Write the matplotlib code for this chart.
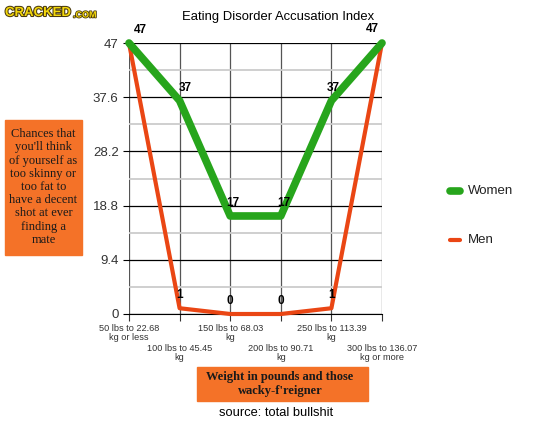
import matplotlib.pyplot as plt
import matplotlib.patheffects as pe
from matplotlib.patches import Rectangle

# data
weights = ["50 lbs to 22.68\nkg or less", "100 lbs to 45.45\nkg", "150 lbs to 68.03\nkg",
           "200 lbs to 90.71\nkg", "250 lbs to 113.39\nkg", "300 lbs to 136.07\nkg or more"]
women = [47, 37, 17, 17, 37, 47]
men = [47, 1, 0, 0, 1, 47]
y_ticks = [0, 9.4, 18.8, 28.2, 37.6, 47]

green = "#27a51c"
red = "#ea4614"
orange = "#f47228"

plt.rcParams["font.family"] = ["Liberation Sans", "DejaVu Sans"]

fig = plt.figure(figsize=(5.5, 4.24), dpi=100)
ax = fig.add_axes([129/550, 1 - 314/424, 253/550, 271/424])

x = list(range(len(weights)))
ax.plot(x, men, color=red, lw=3, solid_joinstyle="round", solid_capstyle="round", clip_on=False, zorder=3)
ax.plot(x, women, color=green, lw=5.5, solid_joinstyle="round", solid_capstyle="round", clip_on=False, zorder=4)

# data labels
w_off = [(8, 5), (4, 5), (2, 5), (2, 5), (1, 5), (-7, 6)]
for i, v in enumerate(women):
    ax.annotate(str(v), (i, v), xytext=w_off[i], textcoords="offset points",
                ha="center", va="bottom", fontsize=8.5, fontweight="bold", zorder=5, annotation_clip=False)
for i, v in enumerate(men):
    if 0 < i < len(men) - 1:
        ax.annotate(str(v), (i, v), xytext=(0, 5), textcoords="offset points",
                    ha="center", va="bottom", fontsize=8.5, fontweight="bold", zorder=5)

ax.set_xlim(0, len(weights) - 1)
ax.set_ylim(0, 47)
ax.set_yticks(y_ticks)
ax.set_yticklabels(["0", "9.4", "18.8", "28.2", "37.6", "47"], fontsize=9.5, color="#333333")
ax.set_yticks([t + 4.7 for t in y_ticks[:-1]], minor=True)
ax.tick_params(axis="y", which="minor", length=0)
ax.tick_params(axis="y", which="major", length=4, color="black")
ax.grid(axis="y", which="major", color="black", lw=0.9)
ax.grid(axis="y", which="minor", color="#cccccc", lw=1.3)
ax.grid(axis="x", color="#555555", lw=0.9)

# staggered category labels
ax.set_xticks(x)
ax.set_xticklabels(weights, fontsize=6.6, color="#333333", linespacing=1.0)
ax.tick_params(axis="x", length=5, pad=2, color="#333333")
for i, t in enumerate(ax.xaxis.get_major_ticks()):
    if i % 2 == 1:
        t.tick1line.set_markersize(21)
        t.set_pad(16.5)

for s in ["top", "right", "left"]:
    ax.spines[s].set_visible(False)
ax.spines["bottom"].set_color("black")
ax.set_axisbelow(True)

# title and logo
fig.text(278/550, 1 - 17/424, "Eating Disorder Accusation Index", ha="center", va="center", fontsize=9.4)
fig.text(5/550, 1 - 13/424, "CRACKED", fontsize=9.5, fontweight="bold", color="#f3d70c", va="center",
         path_effects=[pe.withStroke(linewidth=1.5, foreground="#4a3a10")])
fig.text(73/550, 1 - 15/424, ".COM", fontsize=6.5, fontweight="bold", color="#f3d70c", va="center",
         path_effects=[pe.withStroke(linewidth=1.2, foreground="#4a3a10")])

# y axis note
fig.patches.append(Rectangle((5/550, 1 - 255/424), 77/550, 135/424, transform=fig.transFigure,
                             color=orange, zorder=0))
fig.text(43.5/550, 1 - 187/424,
         "Chances that\nyou'll think\nof yourself as\ntoo skinny or\ntoo fat to\nhave a decent\nshot at ever\nfinding a\nmate",
         ha="center", va="center", fontsize=9, family="Liberation Serif", color="#1a1a1a", linespacing=1.13)

# x axis note
fig.patches.append(Rectangle((197/550, 1 - 401/424), 171/550, 34/424, transform=fig.transFigure,
                             color=orange, zorder=0))
fig.text(280/550, 1 - 384/424, "Weight in pounds and those\nwacky-f'reigner",
         ha="center", va="center", fontsize=9, fontweight="bold", family="Liberation Serif",
         color="#1a1a1a", linespacing=1.2)
fig.text(276/550, 1 - 413/424, "source: total bullshit", ha="center", va="center", fontsize=9.3)

# legend
fig.add_artist(plt.Line2D([450/550, 460/550], [1 - 191/424] * 2, color=green, lw=5.5, solid_capstyle="round"))
fig.text(468/550, 1 - 191/424, "Women", va="center", fontsize=9.5, color="#222222")
fig.add_artist(plt.Line2D([450/550, 460/550], [1 - 240/424] * 2, color=red, lw=3, solid_capstyle="round"))
fig.text(468/550, 1 - 240/424, "Men", va="center", fontsize=9.5, color="#222222")

fig.savefig("out.png", dpi=100)
